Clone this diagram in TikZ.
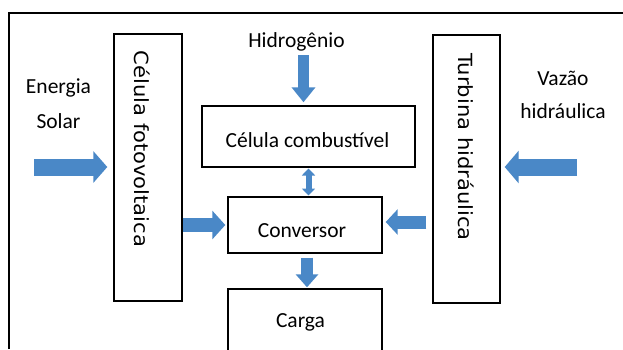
\documentclass[tikz,border=0pt]{standalone}
\usepackage{fontspec}
\setmainfont{Carlito}
\newfontfamily\dvfont{DejaVu Sans}
\usetikzlibrary{arrows.meta,calc}
\definecolor{arrblue}{HTML}{4A88C7}
\tikzset{
  box/.style={draw=black, line width=1.4pt, fill=white, inner sep=0pt},
  lbl/.style={anchor=base, inner sep=0pt, font=\fontsize{21.5}{24}\selectfont, text=black},
  vlbl/.style={rotate=-90, inner sep=0pt, font=\dvfont\fontsize{19.5}{22}\selectfont, text=black},
  blk/.style n args={3}{draw=arrblue, line width=#1, -{Triangle[width=#2, length=#3]}, arrblue},
  dblk/.style n args={3}{draw=arrblue, line width=#1, {Triangle[width=#2, length=#3]}-{Triangle[width=#2, length=#3]}, arrblue}
}
\begin{document}
\begin{tikzpicture}[x=1pt,y=-1pt]
\useasboundingbox (0,0) rectangle (623,349);
\fill[white] (0,0) rectangle (623,349);
% outer frame (cut off at right and bottom)
\draw[line width=2pt] (9,349) -- (9,13) -- (623,13);

% boxes
\node[box, minimum width=68pt, minimum height=267pt] (pv) at (148,167.5) {};
\node[box, minimum width=67pt, minimum height=268pt] (turb) at (466.5,169) {};
\node[box, minimum width=213pt, minimum height=61pt] (fc) at (308.5,136.5) {};
\node[box, minimum width=154pt, minimum height=56pt] (conv) at (305,225) {};
\node[box, minimum width=154pt, minimum height=80pt] (carga) at (305,329) {};

% texts
\node[vlbl] (pvt) at (142,149) {\scalebox{1.08}[1]{Célula fotovoltaica}};
\node[vlbl] (turbt) at (466,147) {\scalebox{1.08}[1]{Turbina hidráulica}};
\node[lbl] (fct) at (307.5,147) {Célula combustível};
\node[lbl] (convt) at (302,237) {Conversor};
\node[lbl] (cargat) at (300.5,327) {Carga};
\node[lbl] (hyd) at (296.5,47) {Hidrogênio};
\node[lbl] (en1) at (58.5,93) {Energia};
\node[lbl] (en2) at (58.5,128) {Solar};
\node[lbl] (vz1) at (563,85) {Vazão};
\node[lbl] (vz2) at (563,118) {hidráulica};

% free ends
\coordinate (eStart) at (34,167);
\coordinate (wStart) at (577,167);
\coordinate (hStart) at (303.5,55);

% arrows
\draw[blk={17pt}{31pt}{14pt}, shorten >=6pt] (eStart) -- (eStart -| pv.west);
\draw[blk={17pt}{32pt}{14pt}, shorten >=4pt] (wStart) -- (wStart -| turb.east);
\draw[blk={11pt}{23pt}{15pt}, shorten >=3pt] (hStart) -- (hStart |- fc.north);
\draw[blk={14pt}{28pt}{13pt}, shorten >=2pt] (pv.east |- 0,225) -- (conv.west |- 0,225);
\draw[blk={13pt}{25pt}{12pt}, shorten <=6pt, shorten >=3pt] (turb.west |- 0,222) -- (conv.east |- 0,222);
\draw[blk={12pt}{22pt}{13pt}, shorten <=4pt, shorten >=1pt] (conv.south -| 307,0) -- (carga.north -| 307,0);
\draw[dblk={6pt}{13pt}{7pt}, shorten <=0.8pt, shorten >=0.8pt] (fc.south -| 308.5,0) -- (conv.north -| 308.5,0);
\end{tikzpicture}
\end{document}
